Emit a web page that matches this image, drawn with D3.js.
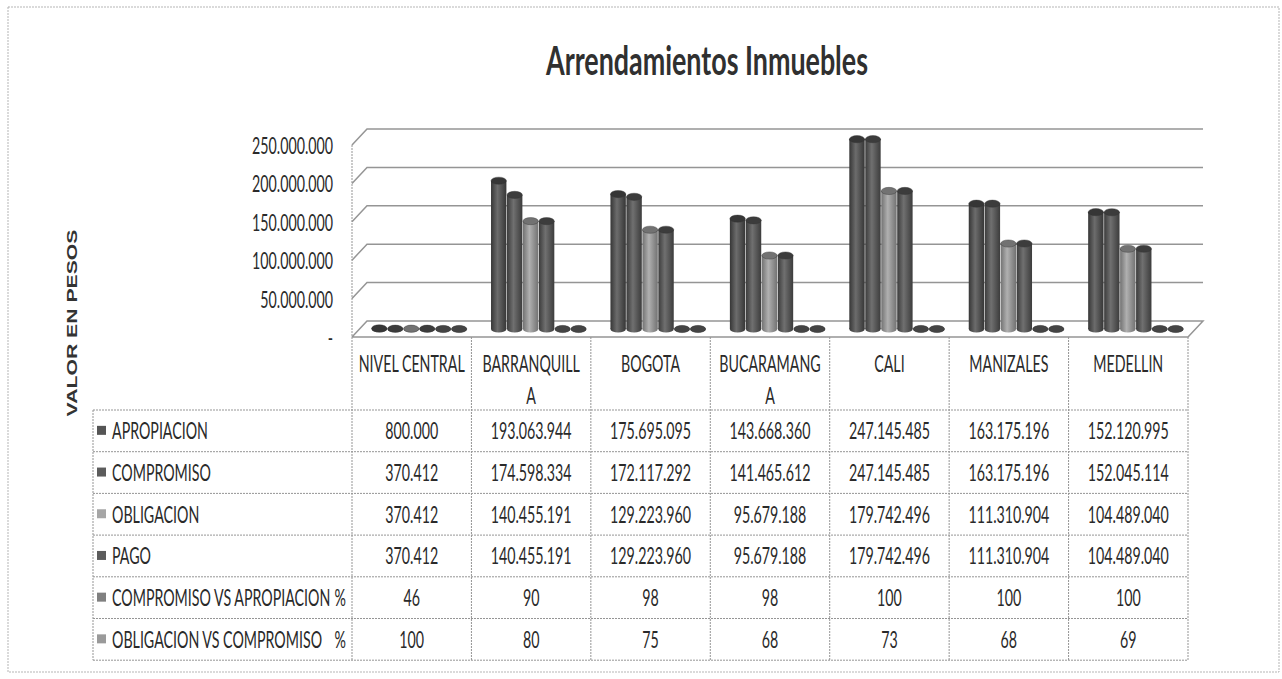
<!DOCTYPE html>
<html><head><meta charset="utf-8">
<script src="https://cdn.jsdelivr.net/npm/d3@7"></script>
<style>body{margin:0;background:#fff}</style>
</head><body><svg id="c" width="1282" height="679"></svg>
<script>
// ---------- data ----------
const categories = ["NIVEL CENTRAL","BARRANQUILLA","BOGOTA","BUCARAMANGA","CALI","MANIZALES","MEDELLIN"];
const categoryLabels = [["NIVEL CENTRAL"],["BARRANQUILL","A"],["BOGOTA"],["BUCARAMANG","A"],["CALI"],["MANIZALES"],["MEDELLIN"]];
const seriesNames = ["APROPIACION","COMPROMISO","OBLIGACION","PAGO","COMPROMISO VS APROPIACION","OBLIGACION VS COMPROMISO"];
const seriesUnits = ["","","","","%","%"];
const apropiacion = [800000,193063944,175695095,143668360,247145485,163175196,152120995];
const compromiso = [370412,174598334,172117292,141465612,247145485,163175196,152045114];
const obligacion = [370412,140455191,129223960,95679188,179742496,111310904,104489040];
const pago = [370412,140455191,129223960,95679188,179742496,111310904,104489040];
const compromisoVsApropiacion = [46,90,98,98,100,100,100];
const obligacionVsCompromiso = [100,80,75,68,73,68,69];
const yTicks = [0,50000000,100000000,150000000,200000000,250000000];
const chartTitle = "Arrendamientos Inmuebles";
const yTitle = "VALOR EN PESOS";

const seriesValues = [apropiacion, compromiso, obligacion, pago, compromisoVsApropiacion, obligacionVsCompromiso];

// ---------- styles ----------
const barEdge = ["#363636","#3c3c3c","#727272","#3c3c3c","#444","#444"];
const barMid  = ["#6c6c6c","#707070","#b0b0b0","#707070","#777","#777"];
const legendColors = ["#555","#5c5c5c","#a6a6a6","#5c5c5c","#808080","#9a9a9a"];
const lineColor = "#959595";
const FONT = "Lato, 'Open Sans', sans-serif";

const svg = d3.select("#c");
const locale = d3.formatLocale({decimal:",", thousands:".", grouping:[3], currency:["$",""]});
const fmt = locale.format(",d");
const moneyFmt = v => v === 0 ? "-" : fmt(v);

// ---------- geometry ----------
const X0 = 352, XR = 1188;
const Y0 = 337;
const DX = 15, DY = -16;
const tableLeft = 93, rowTop = 410, rowH = 41.7;

const x = d3.scaleBand().domain(categories).range([X0, XR]).paddingInner(0).paddingOuter(0);
const bw = x.bandwidth();
const gap = 11.8;
const xs = d3.scaleBand().domain(seriesNames).range([gap, bw - gap]).paddingInner(0);
const y = d3.scaleLinear().domain([0, 250000000]).range([Y0 + DY, 129]);
const yMid = v => y(v) - DY / 2;
const yFront = d3.scaleLinear().domain(y.domain()).range(y.range().map(r => r - DY));

function measure(str, size, weight, family) {
  const t = svg.append("text").attr("font-size", size).attr("font-weight", weight)
    .attr("font-family", family).text(str);
  const w = t.node().getComputedTextLength();
  t.remove();
  return w;
}
const TS = 23;
const sx = 81 / measure("193.063.944", TS, 400, FONT);

function label(g, str, tx, ty, opts = {}) {
  const s = opts.sx || sx;
  return g.append("text")
    .attr("transform", `translate(${tx},${ty}) scale(${s},1)`)
    .attr("text-anchor", opts.anchor || "middle")
    .attr("font-family", opts.family || FONT)
    .attr("font-size", opts.size || TS)
    .attr("font-weight", opts.weight || 400)
    .attr("fill", opts.fill || "#2a2a2a")
    .text(str);
}

// ---------- outer frame ----------
svg.append("rect").attr("x", 8).attr("y", 7).attr("width", 1271).attr("height", 665)
  .attr("fill", "none").attr("stroke", "#b5b5b5").attr("stroke-width", 1).attr("stroke-dasharray", "2,1");

// ---------- title ----------
const titleSize = 40;
const tsx = 322 / measure(chartTitle, titleSize, 700, FONT);
label(svg, chartTitle, 707, 75, {size: titleSize, weight: 700, sx: tsx, fill: "#303030"});

// ---------- y title ----------
const ySize = 21;
const ylen = measure(yTitle, ySize, 700, "'Liberation Sans', Arial, sans-serif");
svg.append("text")
  .attr("transform", `translate(77,323) rotate(-90) scale(${187 / ylen},0.68)`)
  .attr("text-anchor", "middle")
  .attr("font-family", "'Liberation Sans', Arial, sans-serif")
  .attr("font-size", ySize).attr("font-weight", 700).attr("fill", "#333")
  .text(yTitle);

// ---------- walls / gridlines ----------
const grid = svg.append("g").attr("fill", "none").attr("stroke", lineColor).attr("stroke-width", 1.5);
grid.append("path").attr("d", d3.line()([[X0, Y0], [XR, Y0], [XR + DX, Y0 + DY], [X0 + DX, Y0 + DY], [X0, Y0]]));
grid.append("line").attr("x1", X0).attr("x2", X0).attr("y1", yFront(250000000)).attr("y2", Y0)
  .attr("stroke-dasharray", "2,1").attr("stroke-width", 1);
yTicks.filter(t => t > 0).forEach(t => {
  grid.append("path").attr("d", d3.line()([[X0, yFront(t)], [X0 + DX, y(t)], [XR + DX, y(t)]]));
});

// ---------- y axis ----------
const axis = d3.axisLeft(yFront).tickValues(yTicks).tickSize(0).tickPadding(3).tickFormat(moneyFmt);
const ag = svg.append("g").attr("transform", "translate(336,0)").call(axis);
ag.select(".domain").remove();
ag.selectAll("text")
  .attr("x", null).attr("dy", null)
  .attr("transform", `translate(-3,8.5) scale(${sx},1)`)
  .attr("font-family", FONT).attr("font-size", TS).attr("fill", "#2a2a2a");

// ---------- gradients ----------
const defs = svg.append("defs");
seriesNames.forEach((s, i) => {
  const g = defs.append("linearGradient").attr("id", "g" + i).attr("x1", 0).attr("x2", 1).attr("y1", 0).attr("y2", 0);
  g.append("stop").attr("offset", 0).attr("stop-color", barEdge[i]);
  g.append("stop").attr("offset", 0.42).attr("stop-color", barMid[i]);
  g.append("stop").attr("offset", 1).attr("stop-color", barEdge[i]);
});

// ---------- bars (cylinders) ----------
const bars = svg.append("g");
const ry = 3.6;
categories.forEach((c, j) => {
  seriesNames.forEach((s, i) => {
    const v = seriesValues[i][j];
    const w = xs.bandwidth();
    const bx = x(c) + xs(s) + DX / 2;
    const base = yMid(0), top = yMid(v);
    const g = bars.append("g");
    g.append("ellipse").attr("cx", bx + w / 2).attr("cy", base).attr("rx", w / 2 - 0.3).attr("ry", ry)
      .attr("fill", `url(#g${i})`);
    if (base - top > 0.5) {
      g.append("rect").attr("x", bx + 0.3).attr("y", top).attr("width", w - 0.6).attr("height", base - top)
        .attr("fill", `url(#g${i})`);
    }
    g.append("ellipse").attr("cx", bx + w / 2).attr("cy", top).attr("rx", w / 2 - 0.3).attr("ry", ry)
      .attr("fill", barEdge[i]).attr("stroke", "#333").attr("stroke-width", 0.4);
  });
});

// ---------- data table ----------
const tbl = svg.append("g");
const nRows = seriesNames.length;
const tableBottom = rowTop + nRows * rowH;
const tl = tbl.append("g").attr("stroke", lineColor).attr("stroke-width", 1).attr("stroke-dasharray", "2,1").attr("fill", "none");
categories.forEach(c => {
  tl.append("line").attr("x1", x(c)).attr("x2", x(c)).attr("y1", Y0).attr("y2", tableBottom);
});
tl.append("line").attr("x1", XR).attr("x2", XR).attr("y1", Y0).attr("y2", tableBottom);
tl.append("line").attr("x1", tableLeft).attr("x2", tableLeft).attr("y1", rowTop).attr("y2", tableBottom);
d3.range(nRows + 1).forEach(r => {
  tl.append("line").attr("x1", tableLeft).attr("x2", XR).attr("y1", rowTop + r * rowH).attr("y2", rowTop + r * rowH);
});

categories.forEach((c, j) => {
  categoryLabels[j].forEach((ln, k) => {
    label(tbl, ln, x(c) + bw / 2, 372 + k * 32);
  });
});

seriesNames.forEach((s, i) => {
  const cy = rowTop + i * rowH + rowH / 2;
  tbl.append("rect").attr("x", 97).attr("y", cy - 5).attr("width", 9).attr("height", 9).attr("fill", legendColors[i]);
  label(tbl, s, 112, cy + 8.5, {anchor: "start"});
  if (seriesUnits[i]) label(tbl, seriesUnits[i], 346, cy + 8.5, {anchor: "end"});
  categories.forEach((c, j) => {
    const v = seriesValues[i][j];
    label(tbl, i < 4 ? moneyFmt(v) : String(v), x(c) + bw / 2, cy + 8.5);
  });
});
</script>
</body></html>
